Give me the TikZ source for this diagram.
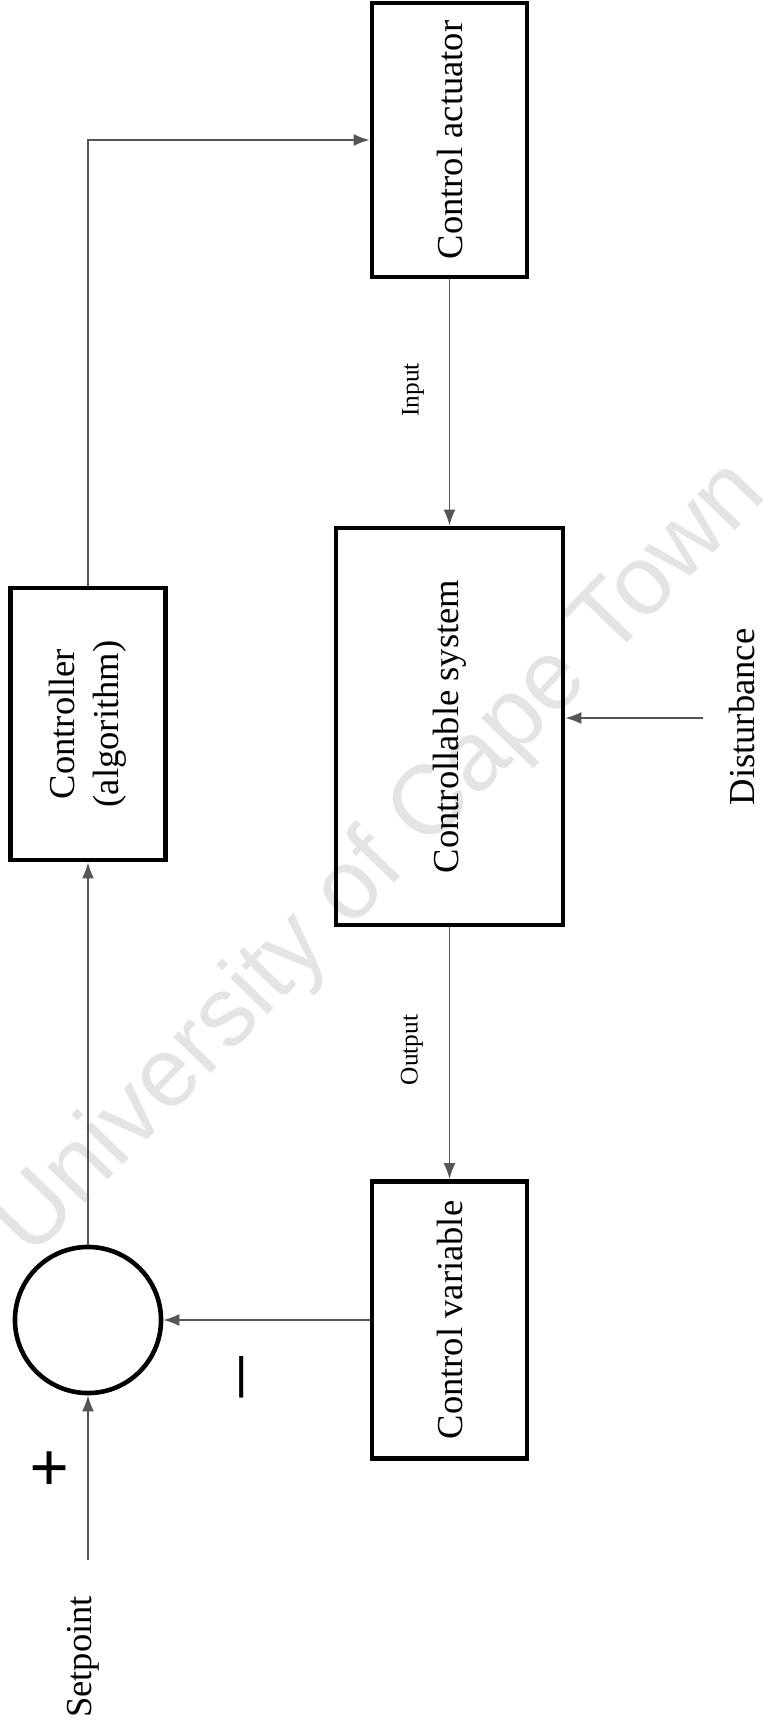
\documentclass[tikz,border=0pt]{standalone}
\usepackage{fontspec}
\setmainfont{Liberation Serif}
\newfontfamily\wmfont{Liberation Sans}
\usetikzlibrary{arrows.meta,calc}
\definecolor{LineGrey}{HTML}{555555}
\definecolor{MarkGrey}{HTML}{E4E4E4}
\tikzset{
    block/.style = {draw, rectangle, rotate=90,
        line width=1.3pt, inner sep=0pt, align=center},
    sum/.style = {draw, circle, line width=1.3pt,
        inner sep=0pt, minimum size=1.46cm},
    arrow/.style = {draw, LineGrey, line width=0.5pt,
        -{Latex[length=1.6mm,width=1.2mm]}},
    sidetext/.style = {rotate=90, inner sep=1pt},
    smalltext/.style = {sidetext, font=\fontsize{7.2}{8.6}\selectfont}
}

\begin{document}
\begin{tikzpicture}[x=0.01cm, y=-0.01cm, font=\fontsize{10.4}{12.5}\selectfont]
  \useasboundingbox (0,0) rectangle (764,1730);
  % watermark
  \node[MarkGrey, rotate=46, font=\wmfont\fontsize{28}{32}\selectfont] (wmark) at (382,860) {University of Cape Town};

  \node[block, minimum width=2.74cm, minimum height=1.55cm] (act) at (449.5,140) {Control actuator};
  \node[block, minimum width=3.97cm, minimum height=2.27cm] (sys) at (449.5,726.5) {Controllable system};
  \node[block, minimum width=2.77cm, minimum height=1.55cm] (var) at (449.5,1320) {Control variable};
  \node[block, minimum width=2.72cm, minimum height=1.55cm] (ctrl) at (88,724) {Controller\\(algorithm)};
  \node[sum] (sum) at (88,1320) {};

  \node[sidetext] (setpt) at (83,1657) {Setpoint};
  \node[sidetext] (distxt) at (742,717) {Disturbance};
  \node[smalltext] (intxt) at (413,390) {Input};
  \node[smalltext] (outtxt) at (412,1050) {Output};
  \node[font=\fontsize{20}{24}\selectfont\bfseries] (plus) at (50,1472) {+};
  \node[rotate=90, font=\fontsize{23}{26}\selectfont] (minus) at (250,1377) {–};

  \coordinate (sp) at (88,1560);
  \coordinate (dist) at (703,718);

  \draw[arrow] (sp) -- (sum);
  \draw[arrow] (var) -- (sum);
  \draw[arrow] (sum) -- (ctrl);
  \draw[arrow] (ctrl) |- (act);
  \draw[arrow] (act) -- (sys);
  \draw[arrow] (sys) -- (var);
  \draw[arrow] (dist) -- (dist -| sys.south);
\end{tikzpicture}
\end{document}
